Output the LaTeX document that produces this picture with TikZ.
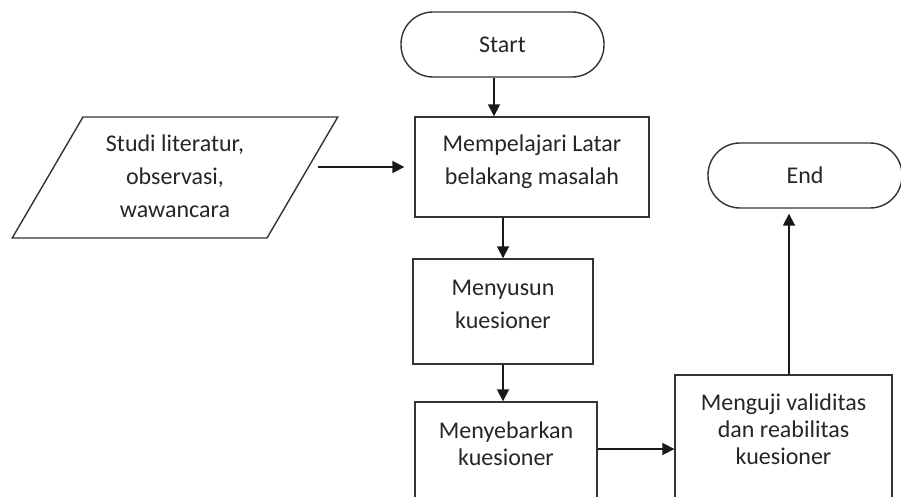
\documentclass[tikz,border=0pt]{standalone}
\usepackage{fontspec}
\setmainfont{Carlito}
\usetikzlibrary{arrows.meta,shapes.geometric}
\newcommand\lifted[2]{\raisebox{#1}[\height][\depth]{\begin{tabular}{@{}c@{}}#2\end{tabular}}}
\tikzset{
  shp/.style={draw=black!80, line width=1.4pt, fill=white, inner sep=0pt,
    text=black!85, font=\fontsize{24}{33}\selectfont},
  tight/.style={font=\fontsize{24}{27}\selectfont},
  term/.style={shp, rounded corners=32pt},
  arr/.style={draw=black!90, line width=1.8pt, -{Triangle[length=12pt,width=12pt]}},
}
\begin{document}
\begin{tikzpicture}[x=1pt,y=-1pt]
\useasboundingbox (0,0) rectangle (901,497);
\clip (0,0) rectangle (901,497);
\node[term, minimum width=203pt, minimum height=65pt] (start) at (502.5,44.5) {Start};
\node[shp, minimum width=234pt, minimum height=100pt] (m) at (532,167)
  {\lifted{6pt}{Mempelajari Latar\\belakang masalah}};
\node[shp, shape=trapezium, trapezium left angle=61.8, trapezium right angle=118.2,
  trapezium stretches=true, minimum width=326pt, minimum height=121pt] (inp) at (175,177.5)
  {\lifted{0pt}{Studi literatur,\\observasi,\\wawancara}};
\node[term, minimum width=194pt, minimum height=65pt] (e) at (805,175.5) {End};
\node[shp, minimum width=180pt, minimum height=105pt] (s) at (503,311.5)
  {\lifted{6.5pt}{Menyusun\\kuesioner}};
\node[shp, tight, minimum width=182pt, minimum height=108pt] (b) at (506,456)
  {\lifted{9pt}{Menyebarkan\\kuesioner}};
\node[shp, tight, minimum width=217pt, minimum height=130pt] (v) at (783.5,440)
  {\lifted{7.5pt}{Menguji validitas\\dan reabilitas\\kuesioner}};
\draw[arr] ([xshift=-8.5pt]start.south) -- ([xshift=-8.5pt]start.south |- m.north);
\draw[arr, shorten <=15pt, shorten >=10pt] (inp.east |- m.west) -- (m.west);
\draw[arr] (m.south -| s.north) -- (s.north);
\draw[arr] (s.south) -- (s.south |- b.north);
\draw[arr] ([yshift=7pt]b.east) -- ([yshift=7pt]b.east -| v.west);
\draw[arr, shorten >=5pt] ([xshift=5.5pt]v.north) -- ([xshift=5.5pt]v.north |- e.south);
\end{tikzpicture}
\end{document}
